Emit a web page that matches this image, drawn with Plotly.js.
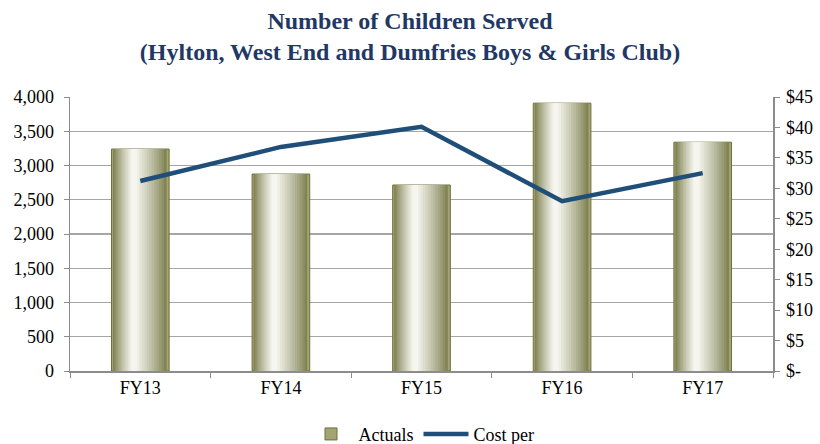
<!DOCTYPE html>
<html>
<head>
<meta charset="utf-8">
<script src="https://cdn.plot.ly/plotly-3.0.1.min.js"></script>
<style>html,body{margin:0;padding:0;background:#fff;}#chart{width:820px;height:444px;}</style>
</head>
<body>
<div id="chart"></div>
<script>
const categories = ["FY13", "FY14", "FY15", "FY16", "FY17"];
const actuals = [3240, 2875, 2715, 3910, 3340];
const costPer = [31.2, 36.8, 40.1, 27.9, 32.5];
const leftTicks = [0, 500, 1000, 1500, 2000, 2500, 3000, 3500, 4000];
const leftTickLabels = ["0", "500", "1,000", "1,500", "2,000", "2,500", "3,000", "3,500", "4,000"];
const rightTicks = [0, 5, 10, 15, 20, 25, 30, 35, 40, 45];
const rightTickLabels = ["$-", "$5", "$10", "$15", "$20", "$25", "$30", "$35", "$40", "$45"];

const serif = "'Liberation Serif', 'Times New Roman', serif";

// cylinder-like shading: overlay layers of the same bars, getting lighter and narrower
const N = 14;
const dark = [112, 114, 60], light = [246, 246, 240];
const traces = [];
for (let i = 0; i < N; i++) {
  const t = i / (N - 1);
  const w = 0.41 - t * 0.37;
  const off = -t * 0.045;
  const k = Math.pow(t, 0.8);
  const c = "rgb(" + dark.map((d, j) => Math.round(d + (light[j] - d) * k)).join(",") + ")";
  traces.push({
    type: "bar",
    x: categories,
    y: actuals,
    name: "Actuals",
    width: w,
    offset: -w / 2 + off,
    marker: {color: i === 0 ? "#a3a474" : c, line: {color: i === 0 ? "#6e6e3c" : c, width: i === 0 ? 1 : 0}},
    showlegend: i === 0,
    hoverinfo: i === 0 ? "x+y" : "skip",
    yaxis: "y"
  });
}
traces.push({
  type: "scatter",
  mode: "lines",
  x: categories,
  y: costPer,
  name: "Cost per",
  line: {color: "#1f4e79", width: 4.5},
  yaxis: "y2"
});

const layout = {
  width: 820,
  height: 444,
  paper_bgcolor: "#fff",
  plot_bgcolor: "#fff",
  margin: {l: 70, r: 47, t: 97, b: 73},
  barmode: "overlay",
  title: {
    text: "<b>Number of Children Served</b><br><b>(Hylton, West End and Dumfries Boys &amp; Girls Club)</b>",
    font: {family: serif, size: 24, color: "#1f3864"},
    x: 0.5, xanchor: "center", y: 0.935, yanchor: "top"
  },
  font: {family: serif, size: 18, color: "#000"},
  xaxis: {
    type: "category",
    showline: true, linecolor: "#8c8c8c", linewidth: 1.5,
    ticks: "outside", tickson: "boundaries", ticklen: 5, tickcolor: "#8c8c8c",
    tickfont: {family: serif, size: 18, color: "#000"},
    showgrid: false, zeroline: false
  },
  yaxis: {
    range: [0, 4000],
    tickvals: leftTicks, ticktext: leftTickLabels,
    showline: true, linecolor: "#8c8c8c", linewidth: 1.5,
    ticks: "outside", ticklen: 5, tickcolor: "#8c8c8c",
    ticklabelstandoff: 6,
    showgrid: true, gridcolor: "#a6a6a6", gridwidth: 1.2,
    zeroline: false,
    tickfont: {family: serif, size: 18, color: "#000"}
  },
  yaxis2: {
    overlaying: "y", side: "right",
    range: [0, 45],
    tickvals: rightTicks, ticktext: rightTickLabels,
    showline: true, linecolor: "#8c8c8c", linewidth: 1.5,
    ticks: "outside", ticklen: 5, tickcolor: "#8c8c8c",
    ticklabelstandoff: 3,
    showgrid: false, zeroline: false,
    tickfont: {family: serif, size: 18, color: "#000"}
  },
  legend: {
    orientation: "h", x: 0.5, xanchor: "center",
    yref: "container", y: 0.022, yanchor: "middle",
    font: {family: serif, size: 18, color: "#000"},
    itemwidth: 45, tracegroupgap: 0
  }
};

Plotly.newPlot("chart", traces, layout, {displayModeBar: false, staticPlot: true});
</script>
</body>
</html>
